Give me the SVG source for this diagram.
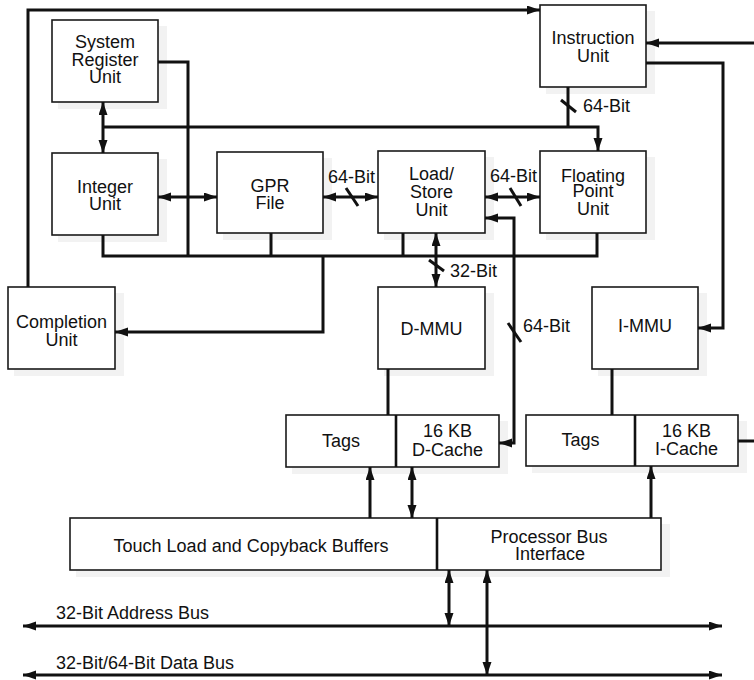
<svg xmlns="http://www.w3.org/2000/svg" width="754" height="680" viewBox="0 0 754 680">
<style>
.box{fill:#fff;stroke:#1a1a1a;stroke-width:1.6}
.sh{fill:#f2f2f2;stroke:none}
.div{stroke:#111;stroke-width:2.6}
.t{font-family:"Liberation Sans",Arial,sans-serif;font-size:18px;fill:#111;text-anchor:middle}
.l{font-family:"Liberation Sans",Arial,sans-serif;font-size:18px;fill:#111}
.c{fill:none;stroke:#111;stroke-width:3}
.a{marker-end:url(#ah)}
.d{marker-start:url(#ah);marker-end:url(#ah)}
</style>
<defs>
<marker id="ah" markerUnits="userSpaceOnUse" markerWidth="14" markerHeight="10" refX="13" refY="4.5" orient="auto-start-reverse"><path d="M0,0 L13,4.5 L0,9 z" fill="#111"/></marker>
</defs>
<rect width="754" height="680" fill="#fff"/>

<g id="sru"><rect class="sh" x="58" y="26" width="109" height="83"/><rect class="box" x="52" y="20" width="106" height="82"/>
<text class="t"><tspan x="105" y="48">System</tspan><tspan x="105" y="66">Register</tspan><tspan x="105" y="83">Unit</tspan></text></g>
<g id="integer-unit"><rect class="sh" x="58" y="159" width="109" height="83"/><rect class="box" x="52" y="153" width="106" height="82"/>
<text class="t"><tspan x="105" y="193">Integer</tspan><tspan x="105" y="210">Unit</tspan></text></g>
<g id="gpr-file"><rect class="sh" x="223" y="158" width="109" height="82"/><rect class="box" x="217" y="152" width="106" height="81"/>
<text class="t"><tspan x="270" y="192">GPR</tspan><tspan x="270" y="209">File</tspan></text></g>
<g id="load-store-unit"><rect class="sh" x="384" y="157" width="110" height="83"/><rect class="box" x="378" y="151" width="107" height="82"/>
<text class="t"><tspan x="431.5" y="180">Load/</tspan><tspan x="431.5" y="198">Store</tspan><tspan x="431.5" y="216">Unit</tspan></text></g>
<g id="fpu"><rect class="sh" x="546" y="157" width="109" height="83"/><rect class="box" x="540" y="151" width="106" height="82"/>
<text class="t"><tspan x="593" y="182">Floating</tspan><tspan x="593" y="197">Point</tspan><tspan x="593" y="215">Unit</tspan></text></g>
<g id="instruction-unit"><rect class="sh" x="546" y="11" width="109" height="83"/><rect class="box" x="540" y="5" width="106" height="82"/>
<text class="t"><tspan x="593" y="44">Instruction</tspan><tspan x="593" y="62">Unit</tspan></text></g>
<g id="completion-unit"><rect class="sh" x="14" y="293" width="110" height="83"/><rect class="box" x="8" y="287" width="107" height="82"/>
<text class="t"><tspan x="61.5" y="328">Completion</tspan><tspan x="61.5" y="346">Unit</tspan></text></g>
<g id="d-mmu"><rect class="sh" x="384" y="293" width="110" height="83"/><rect class="box" x="378" y="287" width="107" height="82"/>
<text class="t" x="431.5" y="335">D-MMU</text></g>
<g id="i-mmu"><rect class="sh" x="598" y="293" width="109" height="83"/><rect class="box" x="592" y="287" width="106" height="82"/>
<text class="t" x="645" y="332">I-MMU</text></g>
<g id="d-cache-unit"><rect class="sh" x="292" y="421" width="216" height="53"/><rect class="box" x="286" y="415" width="213" height="52"/>
<line class="div" x1="396" y1="415" x2="396" y2="467"/>
<text class="t" x="341" y="447">Tags</text>
<text class="t"><tspan x="447.5" y="437">16 KB</tspan><tspan x="447.5" y="456">D-Cache</tspan></text></g>
<g id="i-cache-unit"><rect class="sh" x="532" y="421" width="215" height="52"/><rect class="box" x="526" y="415" width="212" height="51"/>
<line class="div" x1="635" y1="415" x2="635" y2="466"/>
<text class="t" x="580.5" y="446">Tags</text>
<text class="t"><tspan x="686.5" y="437">16 KB</tspan><tspan x="686.5" y="455">I-Cache</tspan></text></g>
<g id="bus-unit"><rect class="sh" x="76" y="524" width="594" height="53"/><rect class="box" x="70" y="518" width="591" height="52"/>
<line class="div" x1="437" y1="518" x2="437" y2="570"/>
<text class="t" x="251" y="552">Touch Load and Copyback Buffers</text>
<text class="t"><tspan x="549" y="543">Processor Bus</tspan><tspan x="550" y="560">Interface</tspan></text></g>

<g id="connectors">
<path class="c a" d="M28,287 V10 H540"/>
<path class="c a" d="M754,43 H646"/>
<path class="c a" d="M646,63 H723 V328 H698"/>
<path class="c" d="M738,441 H754"/>
<path class="c" d="M568,87 V127"/>
<path class="c a" d="M103,127 H598 V151"/>
<path class="c d" d="M103,102 V153"/>
<path class="c" d="M158,62 H188 V256"/>
<path class="c d" d="M158,197 H217"/>
<path class="c d" d="M323,197 H378"/>
<path class="c d" d="M485,197 H540"/>
<path class="c" d="M103,235 V256 H597 V233"/>
<path class="c" d="M271,233 V256"/>
<path class="c" d="M403,233 V256"/>
<path class="c a" d="M323,256 V332 H115"/>
<path class="c d" d="M436,233 V287"/>
<path class="c d" d="M499,443 H514 V218 H485"/>
<path class="c" d="M388,369 V415"/>
<path class="c" d="M612,369 V415"/>
<path class="c a" d="M370,518 V467"/>
<path class="c d" d="M412,467 V518"/>
<path class="c a" d="M651,518 V466"/>
<path class="c d" d="M449,570 V626"/>
<path class="c d" d="M487,570 V675"/>
<path class="c d" d="M23,626 H722"/>
<path class="c d" d="M23,675 H722"/>
<path class="c" d="M346,188 L358,206"/>
<path class="c" d="M510,188 L521,206"/>
<path class="c" d="M561,100 L576,112"/>
<path class="c" d="M429,260 L444,271"/>
<path class="c" d="M508,323 L521,342"/>
<text class="l" x="328" y="183">64-Bit</text>
<text class="l" x="490" y="182">64-Bit</text>
<text class="l" x="583" y="112">64-Bit</text>
<text class="l" x="450" y="277">32-Bit</text>
<text class="l" x="523" y="332">64-Bit</text>
<text class="l" x="56" y="619">32-Bit Address Bus</text>
<text class="l" x="56" y="669">32-Bit/64-Bit Data Bus</text>
</g>
</svg>
